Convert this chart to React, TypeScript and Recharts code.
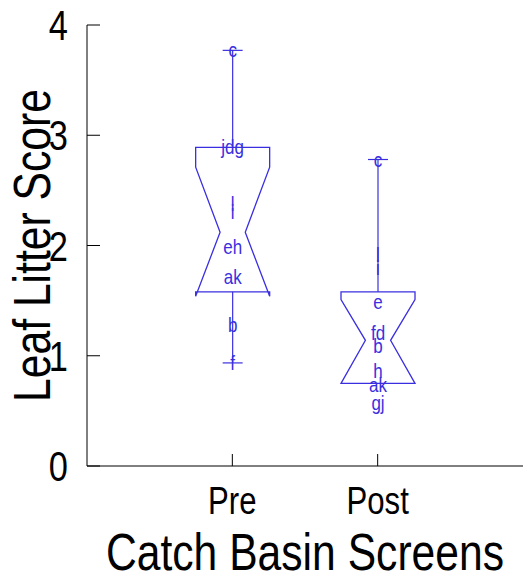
import React from "react";
import { ComposedChart, Bar, XAxis, YAxis } from "recharts";

// box summary per group
const groups = ["Pre", "Post"];
const whiskerHigh = [3.77, 2.78];
const whiskerLow = [0.935, 0.75];
const upperQuartile = [2.89, 1.58];
const lowerQuartile = [1.58, 0.75];
const medians = [2.12, 1.14];
const notchHigh = [2.71, 1.51];
const notchLow = [1.54, 0.75];

// letter markers for the individual sites
const preLabels = ["c", "jdg", "l", "i", "eh", "ak", "b", "f"];
const preValues = [3.77, 2.89, 2.38, 2.3, 1.99, 1.71, 1.28, 0.935];
const postLabels = ["c", "l", "i", "e", "fd", "b", "h", "ak", "gj"];
const postValues = [2.78, 1.91, 1.8, 1.49, 1.21, 1.09, 0.86, 0.735, 0.57];

const yTicks = [0, 1, 2, 3, 4];
const xTicks = [1, 2];

const BLUE = "#3a2fe0";
const FONT = "'Liberation Sans', Arial, sans-serif";
const SQUEEZE = 0.82; // narrow look of the original fonts

const data = groups.map((name, i) => {
  const labels = i === 0 ? preLabels : postLabels;
  const values = i === 0 ? preValues : postValues;
  const all = [whiskerHigh[i], whiskerLow[i], ...values];
  return {
    x: i + 1,
    name,
    lo: Math.min(...all),
    hi: Math.max(...all),
    wHigh: whiskerHigh[i],
    wLow: whiskerLow[i],
    q3: upperQuartile[i],
    q1: lowerQuartile[i],
    med: medians[i],
    nHigh: notchHigh[i],
    nLow: notchLow[i],
    labels,
    values,
  };
});

function NotchedBox(props: any) {
  const { x, y, width, height, payload } = props;
  const top = Math.min(y, y + height);
  const h = Math.abs(height);
  const py = (v: number) => top + (h * (payload.hi - v)) / (payload.hi - payload.lo);
  const left = x;
  const right = x + width;
  const cx = x + width / 2;
  const nw = width * 0.17;
  const cap = width * 0.135;

  const d =
    `M${left},${py(payload.q3)} H${right} V${py(payload.nHigh)} ` +
    `L${cx + nw},${py(payload.med)} L${right},${py(payload.nLow)} V${py(payload.q1)} ` +
    `H${left} V${py(payload.nLow)} L${cx - nw},${py(payload.med)} L${left},${py(payload.nHigh)} Z`;

  return (
    <g>
      <line x1={cx} x2={cx} y1={py(payload.wHigh)} y2={py(payload.q3)} stroke={BLUE} strokeWidth={1.2} />
      {payload.wHigh > payload.q3 && (
        <line x1={cx - cap} x2={cx + cap} y1={py(payload.wHigh)} y2={py(payload.wHigh)} stroke={BLUE} strokeWidth={1.2} />
      )}
      {payload.wLow < payload.q1 && (
        <>
          <line x1={cx} x2={cx} y1={py(payload.q1)} y2={py(payload.wLow)} stroke={BLUE} strokeWidth={1.2} />
          <line x1={cx - cap} x2={cx + cap} y1={py(payload.wLow)} y2={py(payload.wLow)} stroke={BLUE} strokeWidth={1.2} />
        </>
      )}
      <path d={d} fill="none" stroke={BLUE} strokeWidth={1.3} />
      {payload.labels.map((lab: string, k: number) => (
        <text
          key={k}
          transform={`translate(${cx},${py(payload.values[k]) + 7}) scale(0.85,1)`}
          textAnchor="middle"
          fill={BLUE}
          fontSize={20}
          fontFamily={FONT}
        >
          {lab}
        </text>
      ))}
    </g>
  );
}

const YTick = (props: any) => {
  const { x, y, payload } = props;
  return (
    <text transform={`translate(${x},${y + 15}) scale(${SQUEEZE},1)`} textAnchor="end" fontSize={42} fontFamily={FONT} fill="#000">
      {payload.value}
    </text>
  );
};

const XTick = (props: any) => {
  const { x, y, payload } = props;
  return (
    <text transform={`translate(${x},${y + 27}) scale(${SQUEEZE},1)`} textAnchor="middle" fontSize={38} fontFamily={FONT} fill="#000">
      {groups[payload.value - 1]}
    </text>
  );
};

const YTitle = (props: any) => {
  const { viewBox } = props;
  const tx = viewBox.x + 50;
  const ty = viewBox.y + viewBox.height / 2;
  return (
    <text transform={`translate(${tx},${ty}) rotate(-90) scale(${SQUEEZE},1)`} textAnchor="middle" fontSize={52} fontFamily={FONT} fill="#000">
      Leaf Litter Score
    </text>
  );
};

const XTitle = (props: any) => {
  const { viewBox } = props;
  return (
    <text
      transform={`translate(${viewBox.x + viewBox.width / 2},${viewBox.y + 104}) scale(${SQUEEZE},1)`}
      textAnchor="middle"
      fontSize={52}
      fontFamily={FONT}
      fill="#000"
    >
      Catch Basin Screens
    </text>
  );
};

export default function App() {
  return (
    <div style={{ position: "absolute", left: 0, top: 0, background: "#fff" }}>
      <ComposedChart width={523} height={573} data={data} margin={{ top: 25, right: 0, bottom: 0, left: 0 }}>
        <XAxis
          xAxisId="top"
          orientation="top"
          type="number"
          dataKey="x"
          domain={[0, 3]}
          ticks={xTicks}
          height={0}
          tick={false}
          tickSize={-13}
          stroke="#000"
        />
        <XAxis
          dataKey="x"
          type="number"
          domain={[0, 3]}
          ticks={xTicks}
          height={107}
          tickSize={-12}
          tickMargin={33}
          tick={<XTick />}
          stroke="#000"
          label={<XTitle />}
        />
        <YAxis
          type="number"
          domain={[0, 4]}
          ticks={yTicks}
          width={87}
          tickSize={-13}
          tickMargin={32}
          tick={<YTick />}
          stroke="#000"
          label={<YTitle />}
        />
        <YAxis
          yAxisId="right"
          orientation="right"
          type="number"
          domain={[0, 4]}
          ticks={yTicks}
          width={0}
          tick={false}
          tickSize={-13}
          axisLine={false}
          stroke="#000"
        />
        <Bar
          dataKey={(d: any) => [d.lo, d.hi]}
          barSize={74}
          shape={<NotchedBox />}
          isAnimationActive={false}
        />
      </ComposedChart>
    </div>
  );
}
